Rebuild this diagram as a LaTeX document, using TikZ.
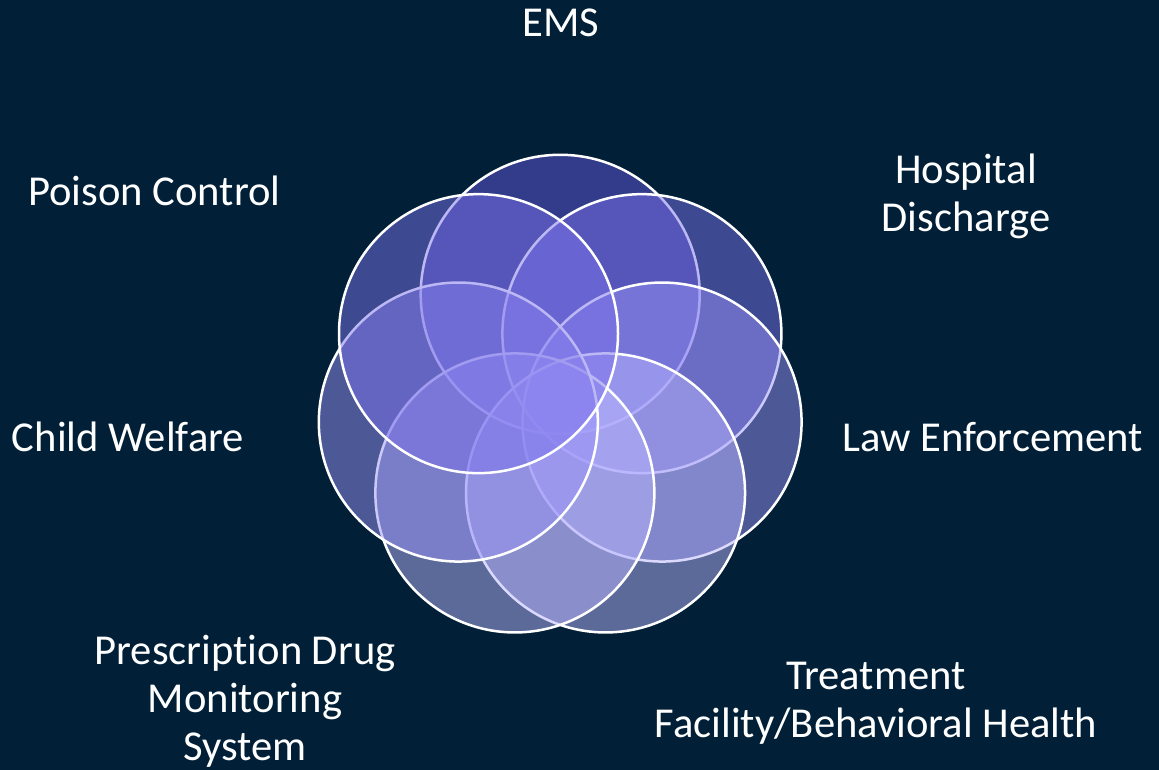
\documentclass[tikz,border=0pt]{standalone}
\usepackage{fontspec}
\setmainfont[Ligatures={NoCommon,NoDiscretionary}]{Carlito}
\definecolor{bg}{RGB}{1,32,55}
\definecolor{cA}{RGB}{102,86,224}
\definecolor{cB}{RGB}{122,114,234}
\definecolor{cC}{RGB}{152,146,246}
\definecolor{cD}{RGB}{184,180,254}
\tikzset{
  ring/.style={circle, draw=white, line width=2.5pt, fill opacity=0.5, draw opacity=1, minimum size=279pt, inner sep=0pt},
  lbl/.style={text=white, font=\fontsize{42.6}{48}\selectfont, inner sep=0pt, align=center}
}
\begin{document}
\begin{tikzpicture}[x=1pt,y=1pt]
\fill[bg] (0,0) rectangle (1159,770);
\useasboundingbox (0,0) rectangle (1159,770);
\coordinate (o) at (560.2,371.2);
\node[ring, fill=cA] (cT)  at ([shift={(90:104.5)}]o) {};
\node[ring, fill=cB] (cUR) at ([shift={(38.57:104.5)}]o) {};
\node[ring, fill=cC] (cR)  at ([shift={(-12.86:104.5)}]o) {};
\node[ring, fill=cD] (cLR) at ([shift={(-64.29:104.5)}]o) {};
\node[ring, fill=cD] (cLL) at ([shift={(-115.71:104.5)}]o) {};
\node[ring, fill=cC] (cL)  at ([shift={(-167.14:104.5)}]o) {};
\node[ring, fill=cB] (cUL) at ([shift={(141.43:104.5)}]o) {};
\node[lbl, anchor=base] (ems) at (561,733) {EMS};
\node[lbl] (hosp) at (966,573.6) {Hospital\\Discharge};
\node[lbl, anchor=base] (poison) at (154.5,564) {Poison Control};
\node[lbl, anchor=base] (child) at (128,318) {Child Welfare};
\node[lbl, anchor=base] (law) at (992.5,318) {Law Enforcement};
\node[lbl] (pdms) at (245,69) {Prescription Drug\\Monitoring\\System};
\node[lbl] (treat) at (876,67) {Treatment\\Facility/Behavioral Health};
\end{tikzpicture}
\end{document}
